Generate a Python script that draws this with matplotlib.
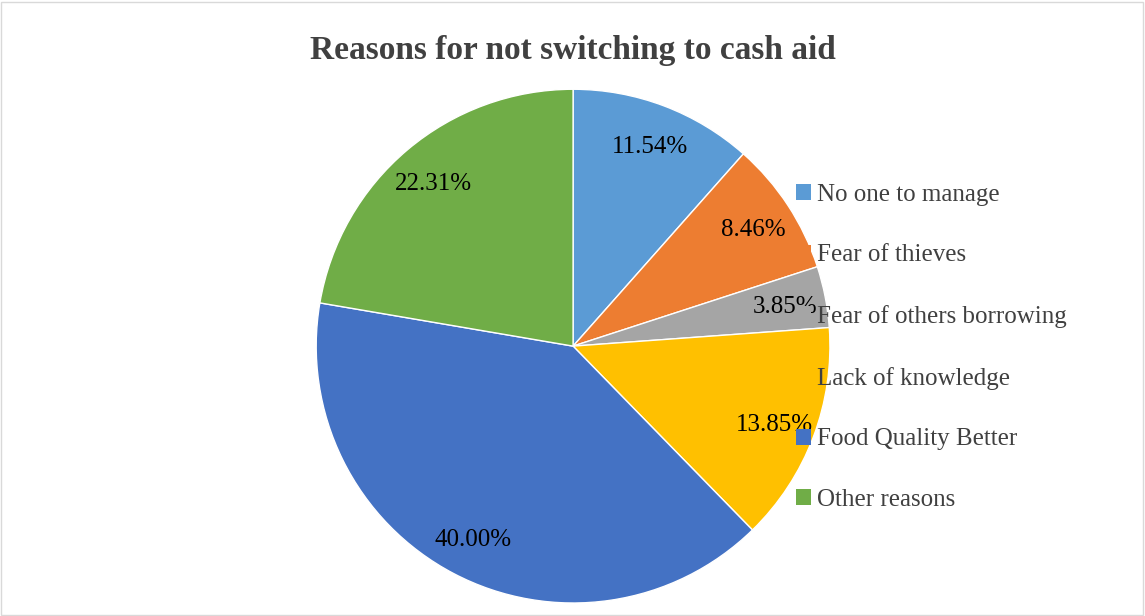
import matplotlib.pyplot as plt
from matplotlib.patches import Rectangle, Patch

# -----------------------------
# Data
# -----------------------------

reasons = [
    "No one to manage",
    "Fear of thieves",
    "Fear of others borrowing",
    "Lack of knowledge",
    "Food Quality Better",
    "Other reasons",
]

shares = [11.54, 8.46, 3.85, 13.85, 40.00, 22.31]

colors = ["#5B9BD5", "#ED7D31", "#A5A5A5", "#FFC000", "#4472C4", "#70AD47"]

# -----------------------------
# Figure
# -----------------------------

plt.rcParams["font.family"] = ["Liberation Serif", "DejaVu Serif"]

fig = plt.figure(figsize=(11.45, 6.16), dpi=100)

ax = fig.add_axes([0.276, 0.0211, 0.449, 0.834])
ax.patch.set_visible(False)

wedges, texts, autotexts = ax.pie(
    shares,
    colors=colors,
    startangle=90,
    counterclock=False,
    autopct="%.2f%%",
    pctdistance=0.84,
    radius=1.0,
    wedgeprops=dict(edgecolor="white", linewidth=1),
    textprops=dict(fontsize=18, color="black"),
)

for t in autotexts:
    t.set_va("center_baseline")

ax.set_xlim(-1, 1)
ax.set_ylim(-1, 1)
ax.set_aspect("equal")

# -----------------------------
# Legend (drawn over the pie edge)
# -----------------------------

handles = [Patch(facecolor=c, edgecolor="none") for c in colors]

leg = fig.legend(
    handles,
    reasons,
    loc="upper left",
    bbox_to_anchor=(773 / 1145, 1 - 161 / 616),
    frameon=False,
    fontsize=18,
    labelcolor="#404040",
    handlelength=0.6,
    handleheight=0.6,
    handletextpad=0.25,
    labelspacing=1.55,
)

# -----------------------------
# Title and border
# -----------------------------

fig.text(
    0.5,
    1 - 51 / 616,
    "Reasons for not switching to cash aid",
    ha="center",
    va="center",
    fontsize=24,
    fontweight="bold",
    color="#404040",
)

fig.patches.append(
    Rectangle(
        (0.001, 0.002), 0.997, 0.995,
        transform=fig.transFigure,
        fill=False,
        edgecolor="#D9D9D9",
        linewidth=1,
    )
)

plt.savefig("out.png", dpi=100)
